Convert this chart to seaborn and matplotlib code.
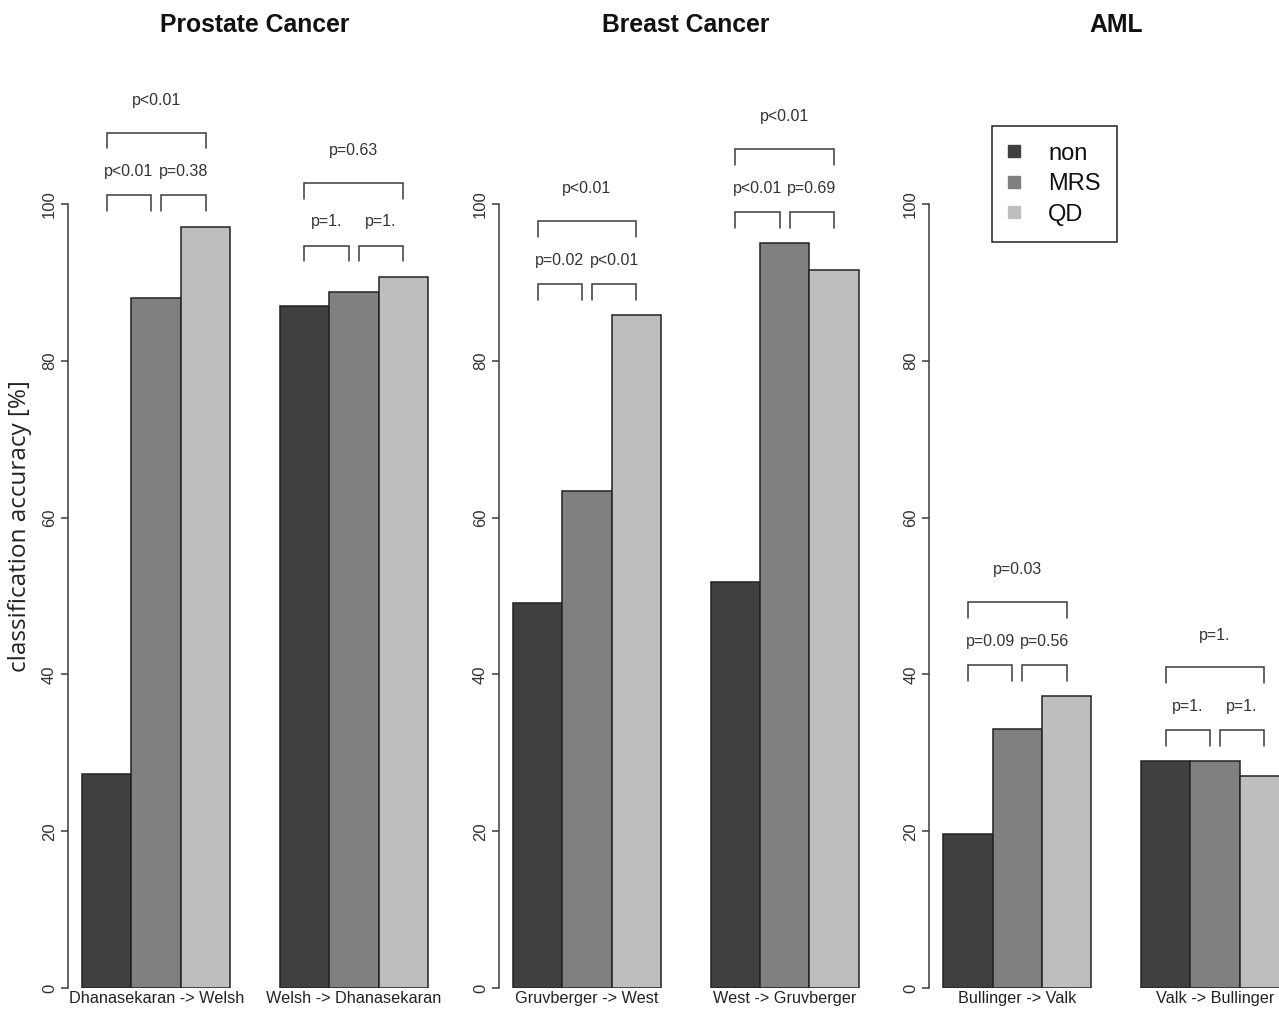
import matplotlib
matplotlib.use("Agg")
import matplotlib.pyplot as plt
import seaborn as sns
import pandas as pd
from matplotlib.lines import Line2D

# ---- data -------------------------------------------------------------
panels = ["Prostate Cancer", "Breast Cancer", "AML"]
directions = [
    ["Dhanasekaran -> Welsh", "Welsh -> Dhanasekaran"],
    ["Gruvberger -> West", "West -> Gruvberger"],
    ["Bullinger -> Valk", "Valk -> Bullinger"],
]
methods = ["non", "MRS", "QD"]

# classification accuracy [%] per direction (flattened panel by panel)
acc_non = [27.3, 87.0, 49.1, 51.8, 19.6, 28.9]
acc_mrs = [88.0, 88.8, 63.4, 95.0, 33.0, 28.9]
acc_qd = [97.1, 90.7, 85.8, 91.6, 37.2, 27.0]

# pairwise test results: non vs MRS, MRS vs QD, non vs QD
p_non_mrs = ["p<0.01", "p=1.", "p=0.02", "p<0.01", "p=0.09", "p=1."]
p_mrs_qd = ["p=0.38", "p=1.", "p<0.01", "p=0.69", "p=0.56", "p=1."]
p_non_qd = ["p<0.01", "p=0.63", "p<0.01", "p<0.01", "p=0.03", "p=1."]

colors = ["#404040", "#808080", "#bebebe"]
ytick_values = [0, 20, 40, 60, 80, 100]
ytick_labels = ["0", "20", "40", "60", "80", "100"]

# ---- style ------------------------------------------------------------
sns.set_style("white")
plt.rcParams["font.family"] = ["Liberation Sans", "DejaVu Sans"]

W, H = 1279, 1009
fig = plt.figure(figsize=(W / 100, H / 100), dpi=100)

axis_left_px = [68.2, 499.0, 929.3]
axis_width_px = 373.6
zero_px = 988.0
px_per_unit = 7.84
ymax = 120
line_col = "#3a3a3a"
text_col = "#333333"

rows = []
k = 0
for pi, panel in enumerate(panels):
    for d in directions[pi]:
        for m, vals in zip(methods, [acc_non, acc_mrs, acc_qd]):
            rows.append({"panel": panel, "direction": d, "method": m, "accuracy": vals[k]})
        k += 1
df = pd.DataFrame(rows)

axes = []
for pi, panel in enumerate(panels):
    left = axis_left_px[pi] / W
    bottom = (H - zero_px) / H
    ax = fig.add_axes([left, bottom, axis_width_px / W, ymax * px_per_unit / H])
    sub = df[df["panel"] == panel]
    sns.barplot(data=sub, x="direction", y="accuracy", hue="method",
                order=directions[pi], hue_order=methods, palette=colors,
                width=0.75, gap=0, saturation=1, errorbar=None,
                edgecolor="#222222", linewidth=1.1, legend=False, ax=ax)
    ax.set_xlim(-0.445, 1.445)
    ax.set_ylim(0, ymax)
    ax.set_xlabel("")
    ax.set_ylabel("")
    for s in ["top", "right", "bottom"]:
        ax.spines[s].set_visible(False)
    ax.spines["left"].set_bounds(0, 100)
    ax.spines["left"].set_color(line_col)
    ax.spines["left"].set_linewidth(1.1)
    ax.set_yticks(ytick_values)
    ax.set_yticklabels(ytick_labels)
    for lab in ax.get_yticklabels():
        lab.set_rotation(90)
        lab.set_va("center")
    ax.tick_params(axis="y", length=5, width=1.1, color=line_col, pad=3,
                   labelsize=12, labelcolor=text_col, left=True)
    ax.tick_params(axis="x", length=0, pad=2, labelsize=11.7, labelcolor="#222222")

    # significance brackets above each direction
    for g in range(2):
        idx = pi * 2 + g
        h = [acc_non[idx], acc_mrs[idx], acc_qd[idx]]
        top = max(h)
        c = [g - 0.25, g, g + 0.25]
        off = 0.025
        b0, b1 = top + 2.0, top + 4.0
        for x0, x1, lab in [(c[0], c[1] - off, p_non_mrs[idx]),
                            (c[1] + off, c[2], p_mrs_qd[idx])]:
            ax.plot([x0, x0, x1, x1], [b0, b1, b1, b0], color=line_col,
                    lw=1.1, clip_on=False, solid_joinstyle="miter")
            ax.text((x0 + x1) / 2, top + 7.2 - 0.75, lab, ha="center",
                    va="baseline", fontsize=11.5, color=text_col)
        B0, B1 = top + 10.0, top + 12.0
        ax.plot([c[0], c[0], c[2], c[2]], [B0, B1, B1, B0], color=line_col,
                lw=1.1, clip_on=False, solid_joinstyle="miter")
        ax.text(c[1], top + 16.3 - 0.75, p_non_qd[idx], ha="center",
                va="baseline", fontsize=11.5, color=text_col)

    center_px = axis_left_px[pi] + axis_width_px / 2
    fig.text(center_px / W, 1 - 25 / H, panel, ha="center", va="center",
             fontsize=17.8, fontweight="bold", color="#111111")
    axes.append(ax)

fig.text(20 / W, 1 - 526 / H, "classification accuracy [%]", rotation=90,
         ha="center", va="center", fontsize=17.5,
         family=["Open Sans", "DejaVu Sans"], color="#222222")

handles = [Line2D([], [], marker="s", linestyle="", markersize=8.6,
                  markerfacecolor=c, markeredgecolor=c) for c in colors]
leg = axes[2].legend(handles, methods, loc="upper left",
                     bbox_to_anchor=(992 / W, 1 - 126 / H),
                     bbox_transform=fig.transFigure, frameon=True,
                     fancybox=False, edgecolor="#222222", framealpha=1,
                     fontsize=17, borderpad=0.7, handlelength=0.47,
                     handletextpad=1.2, labelspacing=0.36,
                     borderaxespad=0)
leg.get_frame().set_linewidth(1.1)
for t in leg.get_texts():
    t.set_color("#111111")

fig.savefig("out.png", dpi=100)
